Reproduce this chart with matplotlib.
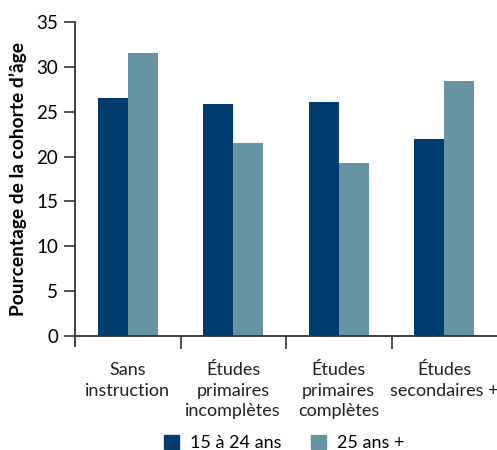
import numpy as np
import matplotlib.pyplot as plt
from matplotlib.patches import Patch

# data
categories = ["Sans\ninstruction", "Études\nprimaires\nincomplètes",
              "Études\nprimaires\ncomplètes", "Études\nsecondaires +"]
young = [26.5, 25.9, 26.1, 22.0]
older = [31.5, 21.5, 19.3, 28.4]
series_names = ["15 à 24 ans", "25 ans +"]
yticks = [0, 5, 10, 15, 20, 25, 30, 35]

dark = "#003d6e"
light = "#6694a0"

plt.rcParams['font.family'] = ['Lato', 'DejaVu Sans']

fig = plt.figure(figsize=(4.97, 4.5), dpi=100)
ax = fig.add_axes([75 / 497, 1 - 336 / 450, 1 - 75 / 497, 314 / 450])

x = np.arange(len(categories))
w = 0.283
ax.bar(x - w / 2, young, w, color=dark)
ax.bar(x + w / 2, older, w, color=light)

ax.set_xlim(-0.5, 3.5)
ax.set_ylim(0, 35)
ax.set_yticks(yticks)
ax.tick_params(axis='y', length=8, width=1.2, color="#333333", labelsize=13.5, pad=4)

# ticks between groups
ax.set_xticks([0.5, 1.5, 2.5])
ax.set_xticklabels([])
ax.tick_params(axis='x', length=9, width=1.2, color="#333333", direction='out')
for i, c in enumerate(categories):
    ax.text(i, -2.85, c, ha='center', va='top', fontsize=13, linespacing=1.38,
            color="#222222")

for s in ['top', 'right']:
    ax.spines[s].set_visible(False)
for s in ['left', 'bottom']:
    ax.spines[s].set_color("#333333")
    ax.spines[s].set_linewidth(1.3)
ax.spines['left'].set_bounds(-1.1, 35)

ax.set_ylabel("Pourcentage de la cohorte d’âge", fontsize=13.8, fontweight='bold', labelpad=7)

handles = [Patch(color=dark), Patch(color=light)]
ax.legend(handles, series_names, loc='center', bbox_to_anchor=(284 / 497, 1 - 443 / 450),
          bbox_transform=fig.transFigure,
          ncol=2, frameon=False, fontsize=13, handlelength=0.85, handleheight=0.85,
          columnspacing=1.6, handletextpad=0.6, borderpad=0)

fig.savefig("out.png", dpi=100)
